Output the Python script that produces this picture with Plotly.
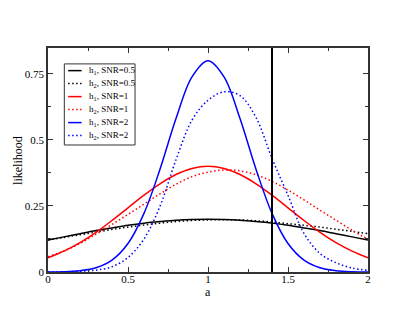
import plotly.graph_objects as go

a_grid = [0.0, 0.1, 0.2, 0.3, 0.4, 0.5, 0.6, 0.7, 0.8, 0.9, 1.0,
          1.1, 1.2, 1.3, 1.4, 1.5, 1.6, 1.7, 1.8, 1.9, 2.0]

h1_snr05 = [0.121, 0.133, 0.145, 0.157, 0.167, 0.177, 0.185, 0.191, 0.196, 0.199, 0.200,
            0.199, 0.196, 0.191, 0.185, 0.177, 0.167, 0.157, 0.145, 0.133, 0.121]
h2_snr05 = [0.121, 0.131, 0.141, 0.151, 0.161, 0.170, 0.178, 0.185, 0.191, 0.195, 0.197,
            0.198, 0.197, 0.194, 0.189, 0.183, 0.177, 0.170, 0.162, 0.154, 0.145]
h1_snr1 = [0.054, 0.079, 0.111, 0.150, 0.195, 0.243, 0.291, 0.334, 0.369, 0.392, 0.400,
           0.392, 0.369, 0.334, 0.291, 0.243, 0.195, 0.150, 0.111, 0.079, 0.054]
h2_snr1 = [0.058, 0.080, 0.108, 0.143, 0.180, 0.218, 0.257, 0.296, 0.332, 0.361, 0.378,
           0.386, 0.383, 0.368, 0.343, 0.310, 0.273, 0.234, 0.196, 0.158, 0.124]
h1_snr2 = [0.000, 0.001, 0.005, 0.016, 0.045, 0.108, 0.222, 0.389, 0.581, 0.739, 0.800,
           0.739, 0.581, 0.389, 0.222, 0.108, 0.045, 0.016, 0.005, 0.001, 0.000]
h2_snr2 = [0.000, 0.001, 0.003, 0.007, 0.020, 0.055, 0.125, 0.249, 0.425, 0.575, 0.650,
           0.682, 0.668, 0.585, 0.430, 0.290, 0.146, 0.070, 0.035, 0.015, 0.006]

a_cut = 1.4

labels = ["h<sub>1</sub>, SNR=0.5", "h<sub>2</sub>, SNR=0.5",
          "h<sub>1</sub>, SNR=1", "h<sub>2</sub>, SNR=1",
          "h<sub>1</sub>, SNR=2", "h<sub>2</sub>, SNR=2"]
series = [h1_snr05, h2_snr05, h1_snr1, h2_snr1, h1_snr2, h2_snr2]
colors = ["#000000", "#000000", "#ff0000", "#ff0000", "#0000ff", "#0000ff"]
dashes = ["solid", "1.5px,2.5px", "solid", "1.5px,2.5px", "solid", "1.5px,2.5px"]

font = "Liberation Serif"

fig = go.Figure()
for lab, ys, c, d in zip(labels, series, colors, dashes):
    fig.add_trace(go.Scatter(x=a_grid, y=ys, mode="lines", name=lab,
                             line=dict(color=c, dash=d, width=1.5, shape="spline"),
                             showlegend=False))

fig.add_vline(x=a_cut, line=dict(color="black", width=2))

# hand-made legend box (xmgrace style, short line samples)
fig.add_shape(type="rect", xref="x domain", yref="y domain",
              x0=0.051, x1=0.272, y0=0.567, y1=0.929,
              line=dict(color="#333", width=1), fillcolor="white")
for i, (lab, c, d) in enumerate(zip(labels, colors, dashes)):
    yy = 0.899 - i * 0.058
    fig.add_shape(type="line", xref="x domain", yref="y domain",
                  x0=0.063, x1=0.105, y0=yy, y1=yy,
                  line=dict(color=c, dash=d, width=1.5))
    fig.add_annotation(xref="x domain", yref="y domain", x=0.121, y=yy,
                       text=lab, showarrow=False, xanchor="left", yanchor="middle",
                       font=dict(family=font, size=9, color="black"))

# axis titles placed as annotations
fig.add_annotation(xref="x domain", yref="y domain", x=0.5, y=-0.088, text="a",
                   showarrow=False, xanchor="center", yanchor="middle",
                   font=dict(family=font, size=12, color="black"))
fig.add_annotation(xref="x domain", yref="y domain", x=-0.094, y=0.5, text="likelihood",
                   showarrow=False, textangle=-90, xanchor="center", yanchor="middle",
                   font=dict(family=font, size=12, color="black"))

axis_common = dict(showline=True, linecolor="#333", linewidth=1.5, mirror="allticks",
                   ticks="inside", ticklen=5, tickcolor="#333", showgrid=False,
                   zeroline=False, automargin=False,
                   tickfont=dict(family=font, size=11, color="black"))

fig.update_xaxes(range=[0, 2], dtick=0.5, ticklabelstandoff=-4,
                 minor=dict(dtick=0.25, ticks="inside", ticklen=3, tickcolor="#333"),
                 **axis_common)
fig.update_yaxes(range=[0, 0.848], dtick=0.25,
                 minor=dict(dtick=0.125, ticks="inside", ticklen=3, tickcolor="#333"),
                 **axis_common)

# the page body adds an 8px margin, so the figure is sized to fit inside it
fig.update_layout(width=399, height=305, paper_bgcolor="white", plot_bgcolor="white",
                  font=dict(family=font),
                  margin=dict(l=40, r=39, t=40, b=41))

fig.write_html("out.html")
